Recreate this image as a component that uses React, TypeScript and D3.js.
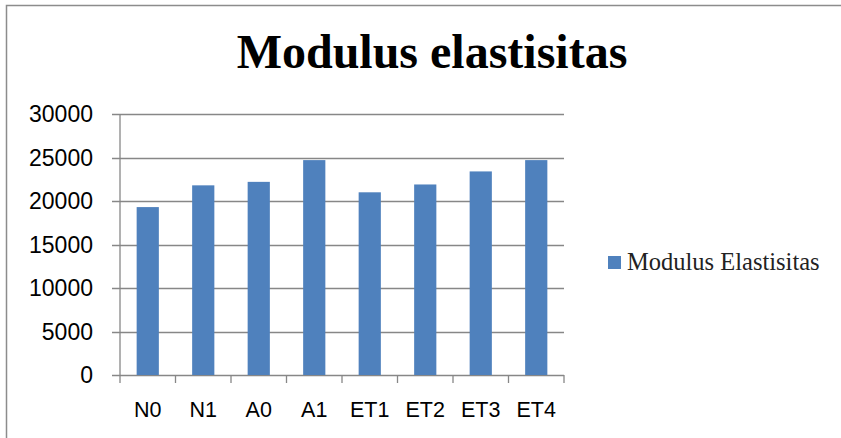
import React from "react";
import { scaleBand, scaleLinear } from "d3";

// data
const categories = ["N0", "N1", "A0", "A1", "ET1", "ET2", "ET3", "ET4"];
const modulusValues = [19300, 21800, 22200, 24700, 21000, 21900, 23400, 24700];
const yTicks = [0, 5000, 10000, 15000, 20000, 25000, 30000];
const seriesName = "Modulus Elastisitas";
const chartTitle = "Modulus elastisitas";

const W = 841;
const H = 438;
const plot = { left: 120, right: 564, top: 114, bottom: 375 };
const axisColor = "#878787";
const barColor = "#4F81BD";

export default function App() {
    const x = scaleBand<string>()
        .domain(categories)
        .range([plot.left, plot.right])
        .paddingInner(0.6)
        .paddingOuter(0.3);
    const y = scaleLinear().domain([0, 30000]).range([plot.bottom, plot.top]);
    const step = x.step();

    // category boundaries for the x tick marks
    const boundaries = categories.map((_, i) => plot.left + i * step).concat([plot.right]);

    return (
        <svg
            width={W}
            height={H}
            style={{ position: "absolute", left: 0, top: 0, background: "#fff", overflow: "hidden" }}
        >
            {/* chart frame: only top and left edges fall inside the picture */}
            <path d={`M6.5,${H} V5.5 H${W}`} fill="none" stroke="#8c8c8c" strokeWidth={1.5} />

            <text
                x={432}
                y={68}
                textAnchor="middle"
                fontFamily="'Liberation Serif', 'Times New Roman', serif"
                fontWeight="bold"
                fontSize={48}
                fill="#000"
            >
                {chartTitle}
            </text>

            {/* gridlines + y ticks */}
            {yTicks.map(t => (
                <g key={t}>
                    <line
                        x1={112}
                        x2={plot.right}
                        y1={Math.round(y(t)) + 0.5}
                        y2={Math.round(y(t)) + 0.5}
                        stroke={axisColor}
                        strokeWidth={1.3}
                    />
                    <text
                        x={93}
                        y={y(t)}
                        textAnchor="end"
                        dominantBaseline="central"
                        fontFamily="'Liberation Sans', Arial, sans-serif"
                        fontSize={23}
                        fill="#000"
                    >
                        {t}
                    </text>
                </g>
            ))}

            {/* bars */}
            {categories.map((c, i) => (
                <rect
                    key={c}
                    x={x(c)}
                    y={y(modulusValues[i])}
                    width={x.bandwidth()}
                    height={y(0) - y(modulusValues[i])}
                    fill={barColor}
                />
            ))}

            {/* axes */}
            <line x1={plot.left} x2={plot.left} y1={plot.top} y2={plot.bottom} stroke={axisColor} strokeWidth={1.3} />
            {boundaries.map((bx, i) => (
                <line key={i} x1={bx} x2={bx} y1={plot.bottom} y2={plot.bottom + 8} stroke={axisColor} strokeWidth={1.3} />
            ))}
            {categories.map(c => (
                <text
                    key={c}
                    x={(x(c) as number) + x.bandwidth() / 2}
                    y={417}
                    textAnchor="middle"
                    fontFamily="'Liberation Sans', Arial, sans-serif"
                    fontSize={21.5}
                    fill="#000"
                >
                    {c}
                </text>
            ))}

            {/* legend */}
            <rect x={608} y={256} width={13} height={13} fill={barColor} />
            <text
                x={627}
                y={270}
                fontFamily="'Liberation Serif', 'Times New Roman', serif"
                fontSize={24.5}
                fill="#222"
            >
                {seriesName}
            </text>
        </svg>
    );
}
